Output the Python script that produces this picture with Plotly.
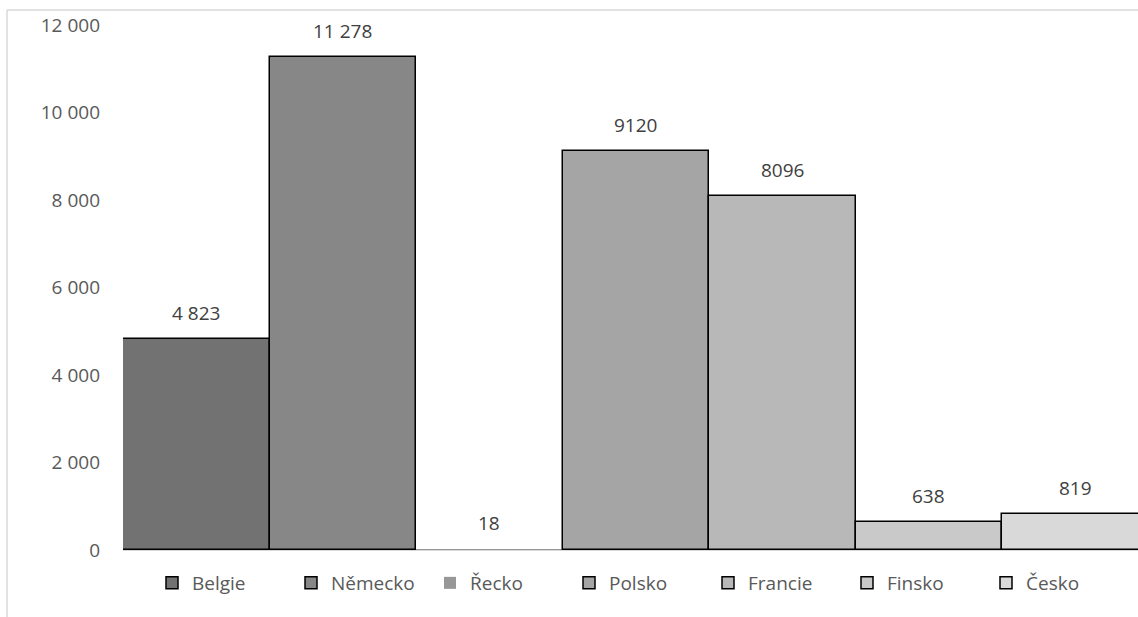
import plotly.graph_objects as go

countries = ["Belgie", "Německo", "Řecko", "Polsko", "Francie", "Finsko", "Česko"]
values = [4823, 11278, 18, 9120, 8096, 638, 819]
value_labels = ["4 823", "11 278", "18", "9120", "8096", "638", "819"]
colors = ["#727272", "#878787", "#979797", "#a5a5a5", "#b8b8b8", "#c9c9c9", "#d9d9d9"]
outline_widths = [1.5, 1.5, 0, 1.5, 1.5, 1.5, 1.5]
y_ticks = [0, 2000, 4000, 6000, 8000, 10000, 12000]
y_tick_labels = ["0", "2 000", "4 000", "6 000", "8 000", "10 000", "12 000"]

FONT = "Open Sans, Liberation Sans, sans-serif"

fig = go.Figure()
for i, (c, v, col, lw) in enumerate(zip(countries, values, colors, outline_widths)):
    fig.add_trace(go.Bar(
        x=[i], y=[v], name=c, width=1,
        marker=dict(color=col, line=dict(color="#000000", width=lw)),
        hoverinfo="name+y",
    ))
    fig.add_annotation(x=i, y=v, text=value_labels[i], showarrow=False,
                       yshift=26, font=dict(family=FONT, size=19, color="#404040"))

L, T, B = 123, 25, 67
W, H = 1138, 617
pw = W - L
ph = H - T - B

def px(x):
    return (x - L) / pw

def py(y):
    return (H - B - y) / ph

# light outer chart border (left and top)
fig.add_shape(type="line", xref="paper", yref="paper",
              x0=px(7), x1=px(1200), y0=py(10), y1=py(10),
              line=dict(color="#d9d9d9", width=1.5))
fig.add_shape(type="line", xref="paper", yref="paper",
              x0=px(7), x1=px(7), y0=py(10), y1=py(640),
              line=dict(color="#d9d9d9", width=1.5))

fig.update_layout(
    width=W, height=H,
    margin=dict(l=L, r=0, t=T, b=B),
    plot_bgcolor="white", paper_bgcolor="white",
    barmode="overlay",
    bargap=0,
    showlegend=True,
    legend=dict(orientation="h", x=px(152), xanchor="left", y=py(583), yanchor="middle",
                font=dict(family=FONT, size=19, color="#595959"),
                itemwidth=30,
                entrywidth=94, entrywidthmode="pixels", itemclick=False),
    xaxis=dict(range=[-0.5, -0.5 + pw / 146.5], showticklabels=False, showgrid=False,
               zeroline=False, showline=False, ticks=""),
    yaxis=dict(range=[0, 12000], tickvals=y_ticks, ticktext=y_tick_labels,
               showgrid=False, zeroline=True, zerolinecolor="#d9d9d9", zerolinewidth=1.5,
               showline=False, ticks="", ticklabelstandoff=22,
               tickfont=dict(family=FONT, size=19, color="#595959")),
    font=dict(family=FONT),
)

fig.write_html("out.html",
               config={"displayModeBar": False},
               post_script="document.body.style.margin='0';document.body.style.overflow='hidden';")
